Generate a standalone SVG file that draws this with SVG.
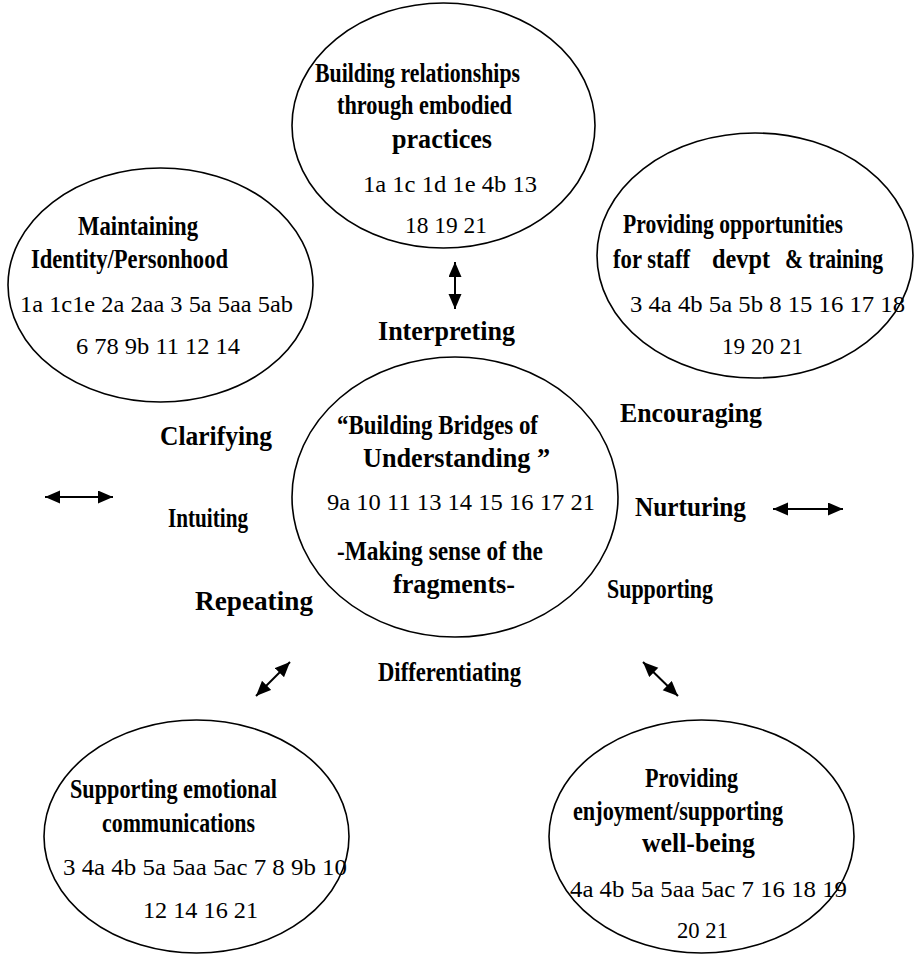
<svg xmlns="http://www.w3.org/2000/svg" width="915" height="956" viewBox="0 0 915 956">
<style>
.el{fill:#fff;stroke:#000;stroke-width:1.6}
.b{font-family:"Liberation Serif","Times New Roman",serif;font-weight:bold;font-size:27px;fill:#000}
.r{font-family:"Liberation Serif","Times New Roman",serif;font-size:23px;fill:#000}
.ar{stroke:#000;stroke-width:2;fill:none;marker-start:url(#ah);marker-end:url(#ah)}
</style>
<defs>
<marker id="ah" markerUnits="userSpaceOnUse" markerWidth="16" markerHeight="14" refX="15" refY="6.5" orient="auto-start-reverse">
<path d="M0,0 L15,6.5 L0,13 z" fill="#000"/>
</marker>
</defs>
<rect width="915" height="956" fill="#fff"/>
<g id="connectors">
<line class="ar" x1="455" y1="262" x2="455" y2="309"/>
<line class="ar" x1="45" y1="497" x2="113" y2="497"/>
<line class="ar" x1="773" y1="509" x2="843" y2="509"/>
<line class="ar" x1="256" y1="696" x2="290" y2="662"/>
<line class="ar" x1="643" y1="662" x2="678" y2="696"/>
</g>
<g id="node-relationships">
<ellipse class="el" cx="443.5" cy="125.5" rx="151.5" ry="122.5"/>
<text class="b" x="315" y="82" textLength="205" lengthAdjust="spacingAndGlyphs">Building relationships</text>
<text class="b" x="337" y="114" textLength="175" lengthAdjust="spacingAndGlyphs">through embodied</text>
<text class="b" x="392" y="148" textLength="100" lengthAdjust="spacingAndGlyphs">practices</text>
<text class="r" x="363" y="192" textLength="174" lengthAdjust="spacingAndGlyphs">1a 1c 1d 1e 4b 13</text>
<text class="r" x="405" y="233" textLength="82" lengthAdjust="spacingAndGlyphs">18 19 21</text>
</g>
<g id="node-identity">
<ellipse class="el" cx="160.5" cy="285" rx="152.5" ry="117"/>
<text class="b" x="78" y="235" textLength="120" lengthAdjust="spacingAndGlyphs">Maintaining</text>
<text class="b" x="31" y="268" textLength="197" lengthAdjust="spacingAndGlyphs">Identity/Personhood</text>
<text class="r" x="20" y="312" textLength="273" lengthAdjust="spacingAndGlyphs">1a 1c1e 2a 2aa 3 5a 5aa 5ab</text>
<text class="r" x="76" y="354" textLength="164" lengthAdjust="spacingAndGlyphs">6 78 9b 11 12 14</text>
</g>
<g id="node-staff">
<ellipse class="el" cx="755" cy="255.5" rx="158" ry="122.5"/>
<text class="b" x="623" y="233" textLength="220" lengthAdjust="spacingAndGlyphs">Providing opportunities</text>
<text class="b" x="613" y="268" textLength="77" lengthAdjust="spacingAndGlyphs">for staff</text>
<text class="b" x="712" y="268" textLength="58" lengthAdjust="spacingAndGlyphs">devpt</text>
<text class="b" x="785" y="268" textLength="98" lengthAdjust="spacingAndGlyphs">&amp; training</text>
<text class="r" x="630" y="312" textLength="275" lengthAdjust="spacingAndGlyphs">3 4a 4b 5a 5b 8 15 16 17 18</text>
<text class="r" x="722" y="354" textLength="81" lengthAdjust="spacingAndGlyphs">19 20 21</text>
</g>
<g id="node-center">
<ellipse class="el" cx="455" cy="497" rx="163" ry="140"/>
<text class="b" x="337" y="434" textLength="201" lengthAdjust="spacingAndGlyphs">“Building Bridges of</text>
<text class="b" x="363" y="467" textLength="187" lengthAdjust="spacingAndGlyphs">Understanding ”</text>
<text class="r" x="327" y="510" textLength="268" lengthAdjust="spacingAndGlyphs">9a 10 11 13 14 15 16 17 21</text>
<text class="b" x="337" y="560" textLength="206" lengthAdjust="spacingAndGlyphs">-Making sense of the</text>
<text class="b" x="393" y="593" textLength="122" lengthAdjust="spacingAndGlyphs">fragments-</text>
</g>
<g id="node-emotional">
<ellipse class="el" cx="196.5" cy="836.5" rx="152.5" ry="116.5"/>
<text class="b" x="70" y="798" textLength="207" lengthAdjust="spacingAndGlyphs">Supporting emotional</text>
<text class="b" x="102" y="832" textLength="153" lengthAdjust="spacingAndGlyphs">communications</text>
<text class="r" x="63" y="875" textLength="284" lengthAdjust="spacingAndGlyphs">3 4a 4b 5a 5aa 5ac 7 8 9b 10</text>
<text class="r" x="143" y="918" textLength="115" lengthAdjust="spacingAndGlyphs">12 14 16 21</text>
</g>
<g id="node-wellbeing">
<ellipse class="el" cx="701.5" cy="836.5" rx="152.5" ry="116.5"/>
<text class="b" x="645" y="787" textLength="93" lengthAdjust="spacingAndGlyphs">Providing</text>
<text class="b" x="573" y="820" textLength="210" lengthAdjust="spacingAndGlyphs">enjoyment/supporting</text>
<text class="b" x="642" y="852" textLength="113" lengthAdjust="spacingAndGlyphs">well-being</text>
<text class="r" x="570" y="897" textLength="277" lengthAdjust="spacingAndGlyphs">4a 4b 5a 5aa 5ac  7 16 18 19</text>
<text class="r" x="677" y="938" textLength="51" lengthAdjust="spacingAndGlyphs">20 21</text>
</g>
<g id="labels">
<text id="lbl-interpreting" class="b" x="378" y="340" textLength="137" lengthAdjust="spacingAndGlyphs">Interpreting</text>
<text id="lbl-clarifying" class="b" x="160" y="445" textLength="112" lengthAdjust="spacingAndGlyphs">Clarifying</text>
<text id="lbl-intuiting" class="b" x="168" y="527" textLength="80" lengthAdjust="spacingAndGlyphs">Intuiting</text>
<text id="lbl-repeating" class="b" x="195" y="610" textLength="118" lengthAdjust="spacingAndGlyphs">Repeating</text>
<text id="lbl-encouraging" class="b" x="620" y="422" textLength="142" lengthAdjust="spacingAndGlyphs">Encouraging</text>
<text id="lbl-nurturing" class="b" x="635" y="516" textLength="111" lengthAdjust="spacingAndGlyphs">Nurturing</text>
<text id="lbl-supporting" class="b" x="607" y="598" textLength="106" lengthAdjust="spacingAndGlyphs">Supporting</text>
<text id="lbl-differentiating" class="b" x="378" y="681" textLength="143" lengthAdjust="spacingAndGlyphs">Differentiating</text>
</g>
</svg>
